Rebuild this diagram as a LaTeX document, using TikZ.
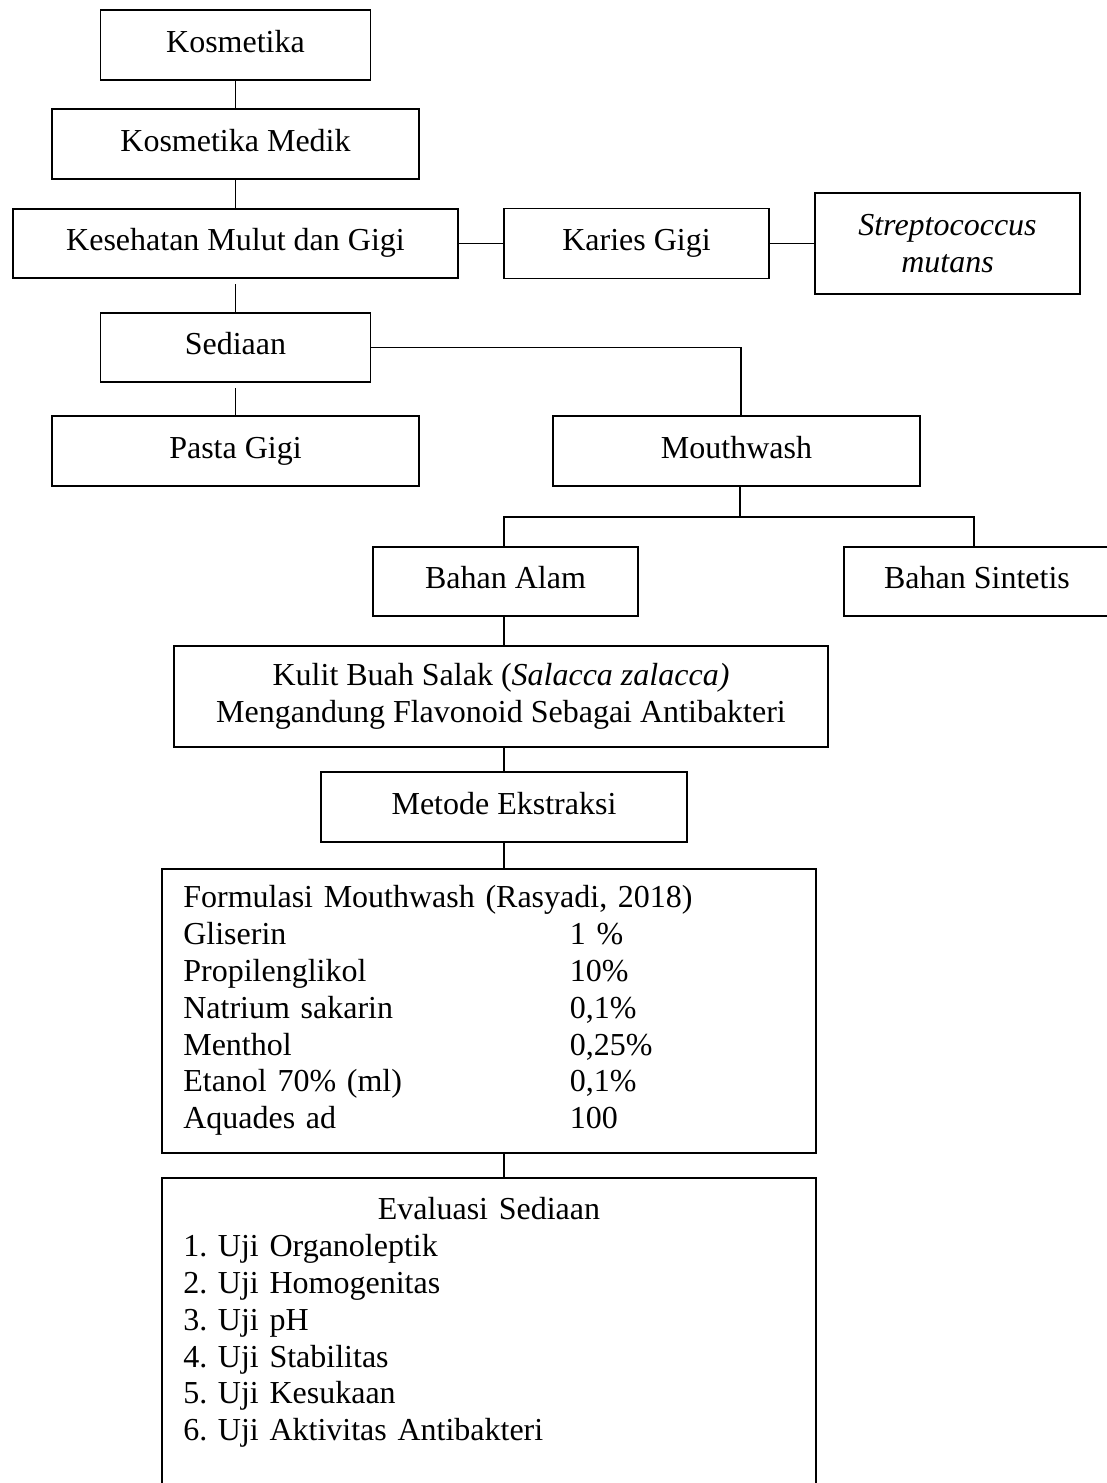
\documentclass[tikz,border=0pt]{standalone}
\usepackage{fontspec}
\setmainfont{Liberation Serif}
\begin{document}
\frenchspacing
\begin{tikzpicture}[x=0.375pt, y=-0.375pt,
  box/.style={draw, line width=0.7pt, align=center, inner sep=0pt,
    font=\fontsize{12}{13.8}\selectfont},
  oneline/.style={text height=9.66pt, text depth=4.14pt},
  link/.style={line width=0.5pt}]
\useasboundingbox (0,0) rectangle (1107,1483);

  % Boxes
  \node[box, oneline, minimum width=101.25pt, minimum height=26.25pt] (kos)   at (235.5,45)    {Kosmetika};
  \node[box, oneline, minimum width=137.6pt,  minimum height=26.25pt] (kmed)  at (235.5,144)   {Kosmetika Medik};
  \node[box, oneline, minimum width=166.9pt,  minimum height=25.9pt]  (kes)   at (235.5,243.5) {Kesehatan Mulut dan Gigi};
  \node[box, oneline, minimum width=99.4pt,   minimum height=26.25pt] (kar)   at (636.5,243.5) {Karies Gigi};
  \node[box, minimum width=99.4pt, minimum height=37.9pt] (strep) at (947.5,243.5) {\textit{Streptococcus}\\\textit{mutans}};
  \node[box, oneline, minimum width=101.25pt, minimum height=25.9pt]  (sed)   at (235.5,347.5) {Sediaan};
  \node[box, oneline, minimum width=137.6pt,  minimum height=26.25pt] (pasta) at (235.5,451)   {Pasta Gigi};
  \node[box, oneline, minimum width=137.6pt,  minimum height=26.25pt] (mw)    at (736.5,451)   {Mouthwash};
  \node[box, oneline, minimum width=99.4pt,   minimum height=25.9pt]  (alam)  at (505.5,581.5) {Bahan Alam};
  \node[box, oneline, minimum width=100pt,    minimum height=25.9pt]  (sint)  at (977,581.5)   {Bahan Sintetis};
  \node[box, minimum width=245.25pt, minimum height=37.9pt] (kulit) at (501,696.5)
    {Kulit Buah Salak (\textit{Salacca zalacca)}\\Mengandung Flavonoid Sebagai Antibakteri};
  \node[box, oneline, minimum width=137.25pt, minimum height=26.25pt] (metode) at (504,807) {Metode Ekstraksi};

  % Formula box
  \node[box, anchor=north, align=left, text width=229.25pt, inner xsep=8pt,
        minimum height=106.5pt] (form) at (489,868) {%
    \begin{tabular}{@{}p{145pt}@{}l@{}}
      \multicolumn{2}{@{}l@{}}{Formulasi Mouthwash (Rasyadi, 2018)}\\
      Gliserin           & 1 \%\\
      Propilenglikol     & 10\%\\
      Natrium sakarin    & 0,1\%\\
      Menthol            & 0,25\%\\
      Etanol 70\% (ml)   & 0,1\%\\
      Aquades ad         & 100
    \end{tabular}};

  % Evaluation box (runs past the bottom edge)
  \node[box, anchor=north, align=left, text width=229.25pt, inner xsep=8pt,
        inner ysep=7.4pt, text depth=115pt] (eval) at (489,1177) {%
    \makebox[229.25pt]{Evaluasi Sediaan}\\
    1. Uji Organoleptik\\
    2. Uji Homogenitas\\
    3. Uji pH\\
    4. Uji Stabilitas\\
    5. Uji Kesukaan\\
    6. Uji Aktivitas Antibakteri};

  % Connectors
  \draw[link] (kos) -- (kmed);
  \draw[link] (kmed) -- (kes);
  \draw[link] (kes) -- (kar);
  \draw[link] (kar) -- (strep);
  \draw[link, shorten <=1.9pt] (kes) -- (sed);
  \draw[link, shorten <=1.9pt] (sed) -- (pasta);
  \draw[link] (sed) -| ([xshift=1.7pt]mw.north);
  \draw[link] ([xshift=1.3pt]mw.south) -- ++(0,30) coordinate (fork);
  \draw[link] (alam.north -| 504,0) |- (fork) -| (sint.north -| 974,0);
  \draw[link] (alam.south -| metode) -- (kulit.north -| metode);
  \draw[link] (kulit.south -| metode) -- (metode);
  \draw[link] (metode) -- (metode |- form.north);
  \draw[link] (form.south -| metode) -- (eval.north -| metode);
\end{tikzpicture}
\end{document}
